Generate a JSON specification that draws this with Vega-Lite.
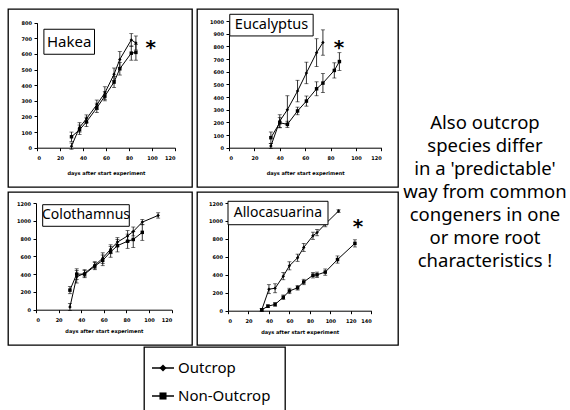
{
  "$schema": "https://vega.github.io/schema/vega-lite/v6.json",
  "padding": {"left": 7, "top": 8, "right": 0, "bottom": 0},
  "background": "white",
  "config": {
    "view": {"stroke": "black", "strokeWidth": 1.3},
    "font": "Noto Sans",
    "axis": {"domainColor": "black", "tickColor": "black", "labelColor": "black", "titleColor": "black", "grid": false, "labelFont": "DejaVu Sans", "titleFont": "DejaVu Sans", "labelFontSize": 5, "labelFontWeight": "bold", "titleFontSize": 5, "titleFontWeight": "bold", "tickSize": 3, "domainWidth": 1, "tickWidth": 1, "format": "d", "labelOverlap": false}
  },
  "datasets": {
    "growth": [
      {"species": "Hakea", "series": "Outcrop", "day": 30, "root": 10, "err": 20},
      {"species": "Hakea", "series": "Outcrop", "day": 37, "root": 130, "err": 30},
      {"species": "Hakea", "series": "Outcrop", "day": 43, "root": 185, "err": 25},
      {"species": "Hakea", "series": "Outcrop", "day": 52, "root": 275, "err": 30},
      {"species": "Hakea", "series": "Outcrop", "day": 59, "root": 350, "err": 40},
      {"species": "Hakea", "series": "Outcrop", "day": 67, "root": 470, "err": 40},
      {"species": "Hakea", "series": "Outcrop", "day": 72, "root": 565, "err": 50},
      {"species": "Hakea", "series": "Outcrop", "day": 82, "root": 690, "err": 40},
      {"species": "Hakea", "series": "Outcrop", "day": 86, "root": 670, "err": 45},
      {"species": "Hakea", "series": "Non-Outcrop", "day": 30, "root": 70, "err": 30},
      {"species": "Hakea", "series": "Non-Outcrop", "day": 37, "root": 115, "err": 30},
      {"species": "Hakea", "series": "Non-Outcrop", "day": 43, "root": 165, "err": 30},
      {"species": "Hakea", "series": "Non-Outcrop", "day": 52, "root": 255, "err": 30},
      {"species": "Hakea", "series": "Non-Outcrop", "day": 59, "root": 330, "err": 30},
      {"species": "Hakea", "series": "Non-Outcrop", "day": 67, "root": 420, "err": 35},
      {"species": "Hakea", "series": "Non-Outcrop", "day": 72, "root": 505, "err": 40},
      {"species": "Hakea", "series": "Non-Outcrop", "day": 82, "root": 605, "err": 45},
      {"species": "Hakea", "series": "Non-Outcrop", "day": 86, "root": 610, "err": 50},
      {"species": "Eucalyptus", "series": "Outcrop", "day": 33, "root": 13, "err": 20},
      {"species": "Eucalyptus", "series": "Outcrop", "day": 40, "root": 210, "err": 50},
      {"species": "Eucalyptus", "series": "Outcrop", "day": 46, "root": 300, "err": 110},
      {"species": "Eucalyptus", "series": "Outcrop", "day": 54, "root": 447, "err": 85},
      {"species": "Eucalyptus", "series": "Outcrop", "day": 61, "root": 590, "err": 85},
      {"species": "Eucalyptus", "series": "Outcrop", "day": 69, "root": 750, "err": 110},
      {"species": "Eucalyptus", "series": "Outcrop", "day": 74, "root": 830, "err": 100},
      {"species": "Eucalyptus", "series": "Non-Outcrop", "day": 33, "root": 79, "err": 45},
      {"species": "Eucalyptus", "series": "Non-Outcrop", "day": 40, "root": 197, "err": 40},
      {"species": "Eucalyptus", "series": "Non-Outcrop", "day": 46, "root": 184, "err": 25},
      {"species": "Eucalyptus", "series": "Non-Outcrop", "day": 54, "root": 290, "err": 30},
      {"species": "Eucalyptus", "series": "Non-Outcrop", "day": 61, "root": 368, "err": 40},
      {"species": "Eucalyptus", "series": "Non-Outcrop", "day": 69, "root": 465, "err": 55},
      {"species": "Eucalyptus", "series": "Non-Outcrop", "day": 74, "root": 510, "err": 75},
      {"species": "Eucalyptus", "series": "Non-Outcrop", "day": 83, "root": 610, "err": 60},
      {"species": "Eucalyptus", "series": "Non-Outcrop", "day": 87, "root": 680, "err": 70},
      {"species": "Colothamnus", "series": "Outcrop", "day": 30, "root": 30, "err": 40},
      {"species": "Colothamnus", "series": "Outcrop", "day": 36, "root": 370, "err": 70},
      {"species": "Colothamnus", "series": "Outcrop", "day": 43, "root": 410, "err": 40},
      {"species": "Colothamnus", "series": "Outcrop", "day": 52, "root": 500, "err": 40},
      {"species": "Colothamnus", "series": "Outcrop", "day": 59, "root": 580, "err": 60},
      {"species": "Colothamnus", "series": "Outcrop", "day": 66, "root": 680, "err": 50},
      {"species": "Colothamnus", "series": "Outcrop", "day": 72, "root": 760, "err": 50},
      {"species": "Colothamnus", "series": "Outcrop", "day": 81, "root": 830, "err": 60},
      {"species": "Colothamnus", "series": "Outcrop", "day": 86, "root": 880, "err": 50},
      {"species": "Colothamnus", "series": "Outcrop", "day": 94, "root": 985, "err": 30},
      {"species": "Colothamnus", "series": "Outcrop", "day": 108, "root": 1060, "err": 30},
      {"species": "Colothamnus", "series": "Non-Outcrop", "day": 30, "root": 220, "err": 40},
      {"species": "Colothamnus", "series": "Non-Outcrop", "day": 36, "root": 400, "err": 60},
      {"species": "Colothamnus", "series": "Non-Outcrop", "day": 43, "root": 400, "err": 40},
      {"species": "Colothamnus", "series": "Non-Outcrop", "day": 52, "root": 490, "err": 40},
      {"species": "Colothamnus", "series": "Non-Outcrop", "day": 59, "root": 555, "err": 60},
      {"species": "Colothamnus", "series": "Non-Outcrop", "day": 66, "root": 650, "err": 60},
      {"species": "Colothamnus", "series": "Non-Outcrop", "day": 72, "root": 720, "err": 70},
      {"species": "Colothamnus", "series": "Non-Outcrop", "day": 81, "root": 770, "err": 80},
      {"species": "Colothamnus", "series": "Non-Outcrop", "day": 86, "root": 790, "err": 90},
      {"species": "Colothamnus", "series": "Non-Outcrop", "day": 94, "root": 870, "err": 90},
      {"species": "Allocasuarina", "series": "Outcrop", "day": 33, "root": 10, "err": 15},
      {"species": "Allocasuarina", "series": "Outcrop", "day": 40, "root": 240, "err": 50},
      {"species": "Allocasuarina", "series": "Outcrop", "day": 46, "root": 250, "err": 50},
      {"species": "Allocasuarina", "series": "Outcrop", "day": 54, "root": 385, "err": 40},
      {"species": "Allocasuarina", "series": "Outcrop", "day": 60, "root": 500, "err": 45},
      {"species": "Allocasuarina", "series": "Outcrop", "day": 68, "root": 590, "err": 40},
      {"species": "Allocasuarina", "series": "Outcrop", "day": 74, "root": 705, "err": 45},
      {"species": "Allocasuarina", "series": "Outcrop", "day": 83, "root": 835, "err": 40},
      {"species": "Allocasuarina", "series": "Outcrop", "day": 87, "root": 870, "err": 35},
      {"species": "Allocasuarina", "series": "Outcrop", "day": 95, "root": 965, "err": 30},
      {"species": "Allocasuarina", "series": "Outcrop", "day": 108, "root": 1110, "err": 15},
      {"species": "Allocasuarina", "series": "Non-Outcrop", "day": 33, "root": 10, "err": 15},
      {"species": "Allocasuarina", "series": "Non-Outcrop", "day": 39, "root": 50, "err": 15},
      {"species": "Allocasuarina", "series": "Non-Outcrop", "day": 46, "root": 70, "err": 20},
      {"species": "Allocasuarina", "series": "Non-Outcrop", "day": 54, "root": 150, "err": 25},
      {"species": "Allocasuarina", "series": "Non-Outcrop", "day": 60, "root": 220, "err": 30},
      {"species": "Allocasuarina", "series": "Non-Outcrop", "day": 68, "root": 255, "err": 25},
      {"species": "Allocasuarina", "series": "Non-Outcrop", "day": 74, "root": 320, "err": 30},
      {"species": "Allocasuarina", "series": "Non-Outcrop", "day": 83, "root": 395, "err": 30},
      {"species": "Allocasuarina", "series": "Non-Outcrop", "day": 87, "root": 400, "err": 30},
      {"species": "Allocasuarina", "series": "Non-Outcrop", "day": 95, "root": 430, "err": 35},
      {"species": "Allocasuarina", "series": "Non-Outcrop", "day": 107, "root": 570, "err": 40},
      {"species": "Allocasuarina", "series": "Non-Outcrop", "day": 124, "root": 750, "err": 40}
    ]
  },
  "spacing": 3,
  "hconcat": [
    {
      "spacing": 0,
      "vconcat": [
        {
          "spacing": 3,
          "vconcat": [
            {
              "spacing": 3,
              "hconcat": [
                {
                  "width": 184, "height": 178,
                  "resolve": {"axis": {"x": "independent", "y": "independent"}},
                  "layer": [
                    {
                      "data": {"name": "growth"},
                      "transform": [{"filter": "datum.species === 'Hakea'"}],
                      "encoding": {
                        "x": {"field": "day", "type": "quantitative", "title": "days after start experiment", "scale": {"domain": [0, 120], "range": [29, 167], "nice": false, "zero": false}, "axis": {"offset": -39.3, "values": [0, 20, 40, 60, 80, 100, 120], "labelPadding": 4.5, "titlePadding": 10}},
                        "y": {"field": "root", "type": "quantitative", "title": null, "scale": {"domain": [0, 800], "range": [138.7, 13.7], "nice": false}, "axis": {"offset": -29, "values": [0, 100, 200, 300, 400, 500, 600, 700, 800], "labelPadding": 2.5}}
                      },
                      "layer": [
                        {"mark": {"type": "line", "color": "black", "strokeWidth": 1}, "encoding": {"detail": {"field": "series"}}},
                        {"mark": {"type": "errorbar", "color": "black", "ticks": true, "size": 4, "thickness": 0.8}, "encoding": {"yError": {"field": "err"}}},
                        {"mark": {"type": "point", "filled": true, "color": "black", "size": 12, "opacity": 1}, "encoding": {"shape": {"field": "series", "scale": {"domain": ["Outcrop", "Non-Outcrop"], "range": ["diamond", "square"]}, "legend": null}}}
                      ]
                    },
                    {"data": {"values": [{}]}, "mark": {"type": "rect", "fill": "white", "stroke": "black", "strokeWidth": 1}, "encoding": {"x": {"datum": 6, "type": "quantitative", "axis": null}, "x2": {"datum": 50}, "y": {"datum": 598, "type": "quantitative", "axis": null}, "y2": {"datum": 758}}},
                    {"data": {"values": [{}]}, "mark": {"type": "text", "fontSize": 15, "font": "Noto Sans", "align": "center", "baseline": "middle"}, "encoding": {"x": {"datum": 28, "type": "quantitative", "axis": null}, "y": {"datum": 678, "type": "quantitative", "axis": null}, "text": {"value": "Hakea"}}},
                    {"data": {"values": [{}]}, "mark": {"type": "text", "fontSize": 20, "fontWeight": "bold", "font": "DejaVu Sans", "align": "center", "baseline": "middle", "dy": 4}, "encoding": {"x": {"datum": 99, "type": "quantitative", "axis": null}, "y": {"datum": 662, "type": "quantitative", "axis": null}, "text": {"value": "*"}}}
                  ]
                },
                {
                  "width": 201, "height": 178,
                  "resolve": {"axis": {"x": "independent", "y": "independent"}},
                  "layer": [
                    {
                      "data": {"name": "growth"},
                      "transform": [{"filter": "datum.species === 'Eucalyptus'"}],
                      "encoding": {
                        "x": {"field": "day", "type": "quantitative", "title": "days after start experiment", "scale": {"domain": [0, 120], "range": [32, 184.3], "nice": false, "zero": false}, "axis": {"offset": -39.3, "values": [0, 20, 40, 60, 80, 100, 120], "labelPadding": 4.5, "titlePadding": 10}},
                        "y": {"field": "root", "type": "quantitative", "title": null, "scale": {"domain": [0, 1000], "range": [138.7, 12], "nice": false}, "axis": {"offset": -32, "values": [0, 100, 200, 300, 400, 500, 600, 700, 800, 900, 1000], "labelPadding": 2.5}}
                      },
                      "layer": [
                        {"mark": {"type": "line", "color": "black", "strokeWidth": 1}, "encoding": {"detail": {"field": "series"}}},
                        {"mark": {"type": "errorbar", "color": "black", "ticks": true, "size": 4, "thickness": 0.8}, "encoding": {"yError": {"field": "err"}}},
                        {"mark": {"type": "point", "filled": true, "color": "black", "size": 12, "opacity": 1}, "encoding": {"shape": {"field": "series", "scale": {"domain": ["Outcrop", "Non-Outcrop"], "range": ["diamond", "square"]}, "legend": null}}}
                      ]
                    },
                    {"data": {"values": [{}]}, "mark": {"type": "rect", "fill": "white", "stroke": "black", "strokeWidth": 1}, "encoding": {"x": {"datum": 0.6, "type": "quantitative", "axis": null}, "x2": {"datum": 66.3}, "y": {"datum": 882, "type": "quantitative", "axis": null}, "y2": {"datum": 1053}}},
                    {"data": {"values": [{}]}, "mark": {"type": "text", "fontSize": 14.5, "font": "Noto Sans", "align": "center", "baseline": "middle"}, "encoding": {"x": {"datum": 33.5, "type": "quantitative", "axis": null}, "y": {"datum": 967, "type": "quantitative", "axis": null}, "text": {"value": "Eucalyptus"}}},
                    {"data": {"values": [{}]}, "mark": {"type": "text", "fontSize": 20, "fontWeight": "bold", "font": "DejaVu Sans", "align": "center", "baseline": "middle", "dy": 4}, "encoding": {"x": {"datum": 86.7, "type": "quantitative", "axis": null}, "y": {"datum": 818, "type": "quantitative", "axis": null}, "text": {"value": "*"}}}
                  ]
                }
              ]
            },
            {
              "spacing": 3,
              "hconcat": [
                {
                  "width": 184, "height": 153,
                  "resolve": {"axis": {"x": "independent", "y": "independent"}},
                  "layer": [
                    {
                      "data": {"name": "growth"},
                      "transform": [{"filter": "datum.species === 'Colothamnus'"}],
                      "encoding": {
                        "x": {"field": "day", "type": "quantitative", "title": "days after start experiment", "scale": {"domain": [0, 120], "range": [28, 163.7], "nice": false, "zero": false}, "axis": {"offset": -35.3, "values": [0, 20, 40, 60, 80, 100, 120], "labelPadding": 4.5, "titlePadding": 6}},
                        "y": {"field": "root", "type": "quantitative", "title": null, "scale": {"domain": [0, 1200], "range": [117.7, 11], "nice": false}, "axis": {"offset": -28, "values": [0, 200, 400, 600, 800, 1000, 1200], "labelPadding": 2.5}}
                      },
                      "layer": [
                        {"mark": {"type": "line", "color": "black", "strokeWidth": 1}, "encoding": {"detail": {"field": "series"}}},
                        {"mark": {"type": "errorbar", "color": "black", "ticks": true, "size": 4, "thickness": 0.8}, "encoding": {"yError": {"field": "err"}}},
                        {"mark": {"type": "point", "filled": true, "color": "black", "size": 12, "opacity": 1}, "encoding": {"shape": {"field": "series", "scale": {"domain": ["Outcrop", "Non-Outcrop"], "range": ["diamond", "square"]}, "legend": null}}}
                      ]
                    },
                    {"data": {"values": [{}]}, "mark": {"type": "rect", "fill": "white", "stroke": "black", "strokeWidth": 1}, "encoding": {"x": {"datum": 5.9, "type": "quantitative", "axis": null}, "x2": {"datum": 82.5}, "y": {"datum": 938, "type": "quantitative", "axis": null}, "y2": {"datum": 1181}}},
                    {"data": {"values": [{}]}, "mark": {"type": "text", "fontSize": 14, "font": "Noto Sans", "align": "center", "baseline": "middle"}, "encoding": {"x": {"datum": 44.2, "type": "quantitative", "axis": null}, "y": {"datum": 1060, "type": "quantitative", "axis": null}, "text": {"value": "Colothamnus"}}}
                  ]
                },
                {
                  "width": 201, "height": 153,
                  "resolve": {"axis": {"x": "independent", "y": "independent"}},
                  "layer": [
                    {
                      "data": {"name": "growth"},
                      "transform": [{"filter": "datum.species === 'Allocasuarina'"}],
                      "encoding": {
                        "x": {"field": "day", "type": "quantitative", "title": "days after start experiment", "scale": {"domain": [0, 140], "range": [31, 174.3], "nice": false, "zero": false}, "axis": {"offset": -34.3, "values": [0, 20, 40, 60, 80, 100, 120, 140], "labelPadding": 4.5, "titlePadding": 6}},
                        "y": {"field": "root", "type": "quantitative", "title": null, "scale": {"domain": [0, 1200], "range": [118.7, 11], "nice": false}, "axis": {"offset": -31, "values": [0, 200, 400, 600, 800, 1000, 1200], "labelPadding": 2.5}}
                      },
                      "layer": [
                        {"mark": {"type": "line", "color": "black", "strokeWidth": 1}, "encoding": {"detail": {"field": "series"}}},
                        {"mark": {"type": "errorbar", "color": "black", "ticks": true, "size": 4, "thickness": 0.8}, "encoding": {"yError": {"field": "err"}}},
                        {"mark": {"type": "point", "filled": true, "color": "black", "size": 12, "opacity": 1}, "encoding": {"shape": {"field": "series", "scale": {"domain": ["Outcrop", "Non-Outcrop"], "range": ["diamond", "square"]}, "legend": null}}}
                      ]
                    },
                    {"data": {"values": [{}]}, "mark": {"type": "rect", "fill": "white", "stroke": "black", "strokeWidth": 1}, "encoding": {"x": {"datum": 0, "type": "quantitative", "axis": null}, "x2": {"datum": 97.7}, "y": {"datum": 958, "type": "quantitative", "axis": null}, "y2": {"datum": 1219}}},
                    {"data": {"values": [{}]}, "mark": {"type": "text", "fontSize": 14, "font": "Noto Sans", "align": "center", "baseline": "middle"}, "encoding": {"x": {"datum": 48.8, "type": "quantitative", "axis": null}, "y": {"datum": 1088, "type": "quantitative", "axis": null}, "text": {"value": "Allocasuarina"}}},
                    {"data": {"values": [{}]}, "mark": {"type": "text", "fontSize": 20, "fontWeight": "bold", "font": "DejaVu Sans", "align": "center", "baseline": "middle", "dy": 4}, "encoding": {"x": {"datum": 127, "type": "quantitative", "axis": null}, "y": {"datum": 977, "type": "quantitative", "axis": null}, "text": {"value": "*"}}}
                  ]
                }
              ]
            }
          ]
        },
        {
          "spacing": 3,
          "hconcat": [
            {"width": 132, "height": 70, "view": {"stroke": null}, "data": {"values": [{}]}, "mark": "text", "encoding": {"text": {"value": ""}}},
            {
              "width": 141, "height": 70,
              "data": {"values": [{"series": "Outcrop"}, {"series": "Non-Outcrop"}]},
              "encoding": {"y": {"field": "series", "type": "nominal", "scale": {"type": "point", "domain": ["Outcrop", "Non-Outcrop"], "range": [21, 49], "padding": 0}, "axis": null}},
              "layer": [
                {"mark": {"type": "rule", "color": "black", "strokeWidth": 1.5}, "encoding": {"x": {"datum": 8, "type": "quantitative", "scale": {"domain": [0, 141], "range": [0, 141], "nice": false}, "axis": null}, "x2": {"datum": 30}}},
                {"mark": {"type": "point", "filled": true, "color": "black", "size": 50, "opacity": 1}, "encoding": {"x": {"datum": 19, "type": "quantitative"}, "shape": {"field": "series", "scale": {"domain": ["Outcrop", "Non-Outcrop"], "range": ["diamond", "square"]}, "legend": null}}},
                {"mark": {"type": "text", "align": "left", "baseline": "middle", "fontSize": 15, "font": "Noto Sans", "color": "black"}, "encoding": {"x": {"datum": 34, "type": "quantitative"}, "text": {"field": "series"}}}
              ]
            }
          ]
        }
      ]
    },
    {
      "width": 166, "height": 228,
      "view": {"stroke": null},
      "data": {"values": [{}]},
      "mark": {"type": "text", "fontSize": 18.5, "font": "Noto Sans", "lineHeight": 23, "align": "center", "baseline": "middle", "color": "black"},
      "encoding": {"text": {"value": ["Also outcrop", "species differ", "in a 'predictable'", "way from common", "congeners in one", "or more root", "characteristics !"]}}
    }
  ]
}
